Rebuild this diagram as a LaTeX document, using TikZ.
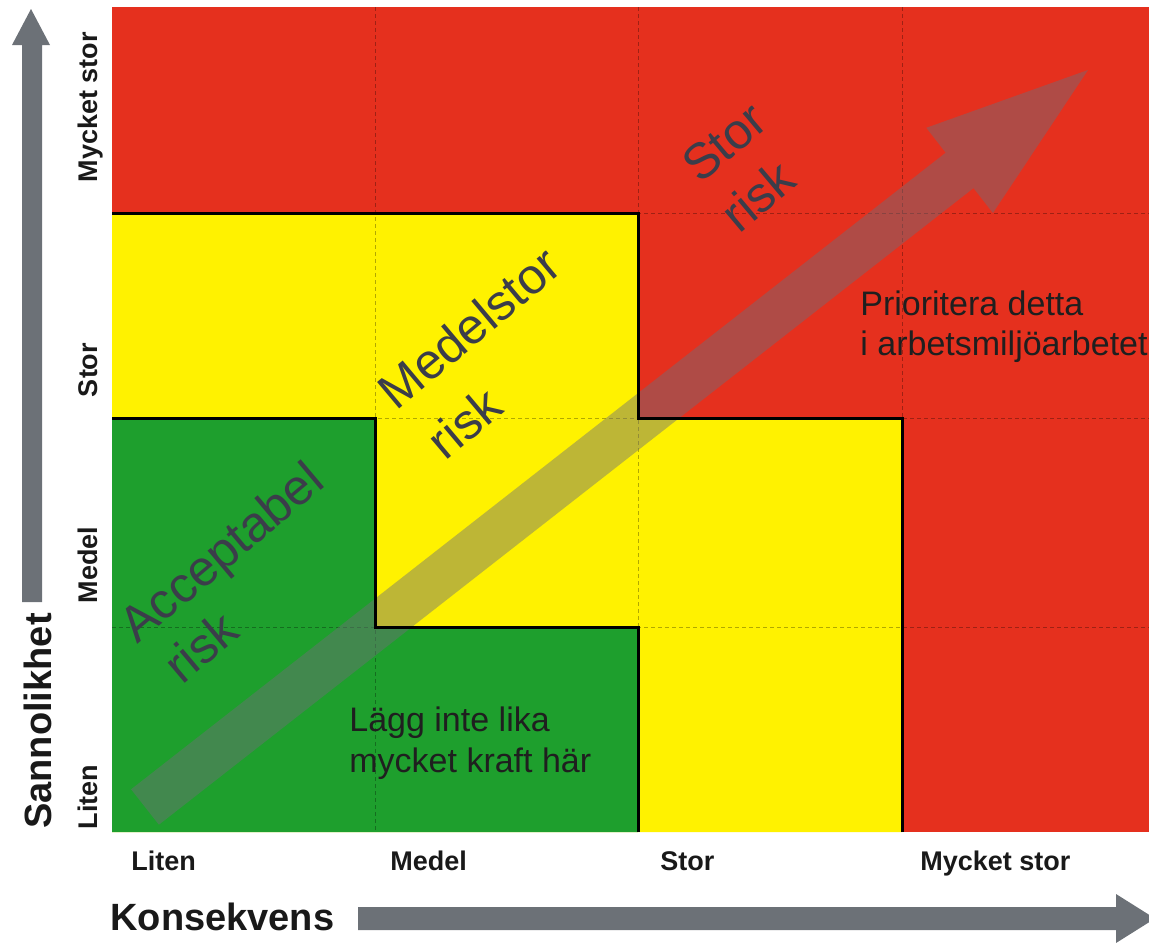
\documentclass[tikz,border=0pt]{standalone}
\usepackage{fontspec}
\setmainfont{Liberation Sans}
\definecolor{rred}{HTML}{E5301E}
\definecolor{ryellow}{HTML}{FFF200}
\definecolor{rgreen}{HTML}{1E9F2D}
\definecolor{axisgray}{HTML}{6C7177}
\definecolor{risktext}{HTML}{3B3D4A}
\definecolor{bigarrow}{HTML}{6E6E78}
\tikzset{
  axlab/.style={inner sep=0pt, font=\fontsize{13.5pt}{15pt}\selectfont\bfseries, text=black!90},
  titlab/.style={inner sep=0pt, font=\fontsize{19pt}{22pt}\selectfont\bfseries, text=black!90},
  note/.style={inner sep=0pt, font=\fontsize{17pt}{20pt}\selectfont, text=black!88},
  risklab/.style={inner sep=0pt, font=\fontsize{25pt}{29pt}\selectfont, text=risktext, transform shape},
  gridline/.style={black, opacity=0.3, line width=0.35pt, dash pattern=on 2pt off 1.5pt},
  border/.style={black, line width=1.5pt, line join=miter},
}
\begin{document}
\begin{tikzpicture}[x=0.5pt,y=-0.5pt]
\useasboundingbox (0,0) rectangle (1149,942);
\clip (0,0) rectangle (1149,942);
% cells
\fill[rred] (112,7) rectangle (1160,832);
\fill[ryellow] (112,213) -- (638,213) -- (638,418) -- (902,418) -- (902,832) -- (112,832) -- cycle;
\fill[rgreen] (112,418) -- (375,418) -- (375,627) -- (638,627) -- (638,832) -- (112,832) -- cycle;
% faint grid
\foreach \gx in {375,638,902} \draw[gridline] (\gx,7) -- (\gx,832);
\foreach \gy in {213,418,627} \draw[gridline] (112,\gy) -- (1160,\gy);
% big diagonal arrow
\fill[bigarrow, opacity=0.45] (131.1,789.3) -- (945.7,152.7) -- (926.3,127.8) -- (1088,70)
  -- (992.9,213.0) -- (973.5,188.1) -- (158.9,824.7) -- cycle;
% region borders
\draw[border] (112,213) -- (638,213) -- (638,418) -- (902,418) -- (902,832);
\draw[border] (112,418) -- (375,418) -- (375,627) -- (638,627) -- (638,832);
% axis arrows
\fill[axisgray] (22,602) -- (22,45) -- (12,45) -- (31,9) -- (50,45) -- (42,45) -- (42,602) -- cycle;
\fill[axisgray] (358,907) -- (1116,907) -- (1116,894) -- (1155,918.5) -- (1116,943) -- (1116,930) -- (358,930) -- cycle;
% axis labels
\node[axlab, anchor=base west] (xl1) at (131,870) {Liten};
\node[axlab, anchor=base west] (xl2) at (390,870) {Medel};
\node[axlab, anchor=base west] (xl3) at (660,870) {Stor};
\node[axlab, anchor=base west] (xl4) at (920,870) {Mycket stor};
\node[axlab, rotate=90, anchor=base] (yl4) at (97,107) {Mycket stor};
\node[axlab, rotate=90, anchor=base] (yl3) at (97,370) {Stor};
\node[axlab, rotate=90, anchor=base] (yl2) at (97,565) {Medel};
\node[axlab, rotate=90, anchor=base] (yl1) at (97,797) {Liten};
\node[titlab, rotate=90, anchor=base] (ytitle) at (51,721) {Sannolikhet};
\node[titlab, anchor=base west] (xtitle) at (110,930) {Konsekvens};
% notes
\node[note, anchor=base west] (p1) at (860,315) {Prioritera detta};
\node[note, anchor=base west] (p2) at (860,355) {i arbetsmiljöarbetet};
\node[note, anchor=base west] (l1) at (349,731) {Lägg inte lika};
\node[note, anchor=base west] (l2) at (349,772) {mycket kraft här};
% risk labels
\begin{scope}[shift={(137,645)}, rotate=40]
  \node[risklab, anchor=base west] (a1) at (0,0) {Acceptabel};
  \node[risklab, anchor=base west] (a2) at (8,60) {risk};
\end{scope}
\begin{scope}[shift={(396,412)}, rotate=40]
  \node[risklab, anchor=base west] (m1) at (0,0) {Medelstor};
  \node[risklab, anchor=base west] (m2) at (6,70) {risk};
\end{scope}
\begin{scope}[shift={(700,185)}, rotate=40]
  \node[risklab, anchor=base west] (s1) at (0,0) {Stor};
  \node[risklab, anchor=base west] (s2) at (-2,63) {risk};
\end{scope}
\end{tikzpicture}
\end{document}
